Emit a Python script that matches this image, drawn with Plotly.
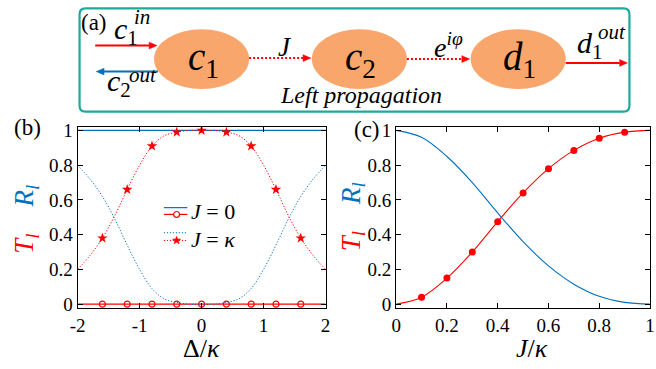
import math
import plotly.graph_objects as go

W, H = 656, 369
FONT = '"Liberation Serif", "Times New Roman", Times, serif'
RED = "#ff0000"
BLUE = "#0072BD"
TEAL = "#1fa99b"
ORANGE = "#f9a66c"

# ---------------- data: panel (b) ----------------
delta = [-2.0, -1.8, -1.6, -1.4, -1.2, -1.0, -0.8, -0.6, -0.4, -0.2, 0.0,
         0.2, 0.4, 0.6, 0.8, 1.0, 1.2, 1.4, 1.6, 1.8, 2.0]
R_J0 = [1.0] * 21
T_J0 = [0.0] * 21
T_Jk = [0.20, 0.28, 0.38, 0.51, 0.66, 0.80, 0.91, 0.97, 0.99, 1.00, 1.00,
        1.00, 0.99, 0.97, 0.91, 0.80, 0.66, 0.51, 0.38, 0.28, 0.20]
R_Jk = [0.80, 0.72, 0.62, 0.49, 0.34, 0.20, 0.09, 0.03, 0.01, 0.00, 0.00,
        0.00, 0.01, 0.03, 0.09, 0.20, 0.34, 0.49, 0.62, 0.72, 0.80]
mk_idx = [2, 4, 6, 8, 10, 12, 14, 16, 18]

# ---------------- data: panel (c) ----------------
J = [0.0, 0.1, 0.2, 0.3, 0.4, 0.5, 0.6, 0.7, 0.8, 0.9, 1.0]
T_c = [0.0, 0.04, 0.15, 0.30, 0.475, 0.64, 0.78, 0.885, 0.955, 0.99, 1.0]
R_c = [1.0, 0.96, 0.85, 0.70, 0.525, 0.36, 0.22, 0.115, 0.045, 0.01, 0.0]
mkc_idx = [1, 2, 3, 4, 5, 6, 7, 8, 9]

xticks_b = [-2, -1, 0, 1, 2]
xtick_text_b = ["-2", "-1", "0", "1", "2"]
xticks_c = [0, 0.2, 0.4, 0.6, 0.8, 1]
xtick_text_c = ["0", "0.2", "0.4", "0.6", "0.8", "1"]
yticks = [0, 0.2, 0.4, 0.6, 0.8, 1]
ytick_text = ["0", "0.2", "0.4", "0.6", "0.8", "1"]


def px(x):
    return x / W


def py(y):
    return 1 - y / H


fig = go.Figure()

DOT = "1.2px,1.8px"
# panel (b)
fig.add_trace(go.Scatter(x=delta, y=R_J0, mode="lines", line=dict(color=BLUE, width=1.2),
                         xaxis="x", yaxis="y"))
fig.add_trace(go.Scatter(x=delta, y=T_J0, mode="lines", line=dict(color=RED, width=1.2),
                         xaxis="x", yaxis="y"))
fig.add_trace(go.Scatter(x=[delta[i] for i in mk_idx], y=[T_J0[i] for i in mk_idx], mode="markers",
                         marker=dict(symbol="circle-open", color=RED, size=6, line=dict(width=1.2)),
                         xaxis="x", yaxis="y"))
fig.add_trace(go.Scatter(x=delta, y=R_Jk, mode="lines", line=dict(color=BLUE, width=1, dash=DOT, shape="spline"),
                         xaxis="x", yaxis="y"))
fig.add_trace(go.Scatter(x=delta, y=T_Jk, mode="lines", line=dict(color=RED, width=1, dash=DOT, shape="spline"),
                         xaxis="x", yaxis="y"))
fig.add_trace(go.Scatter(x=[delta[i] for i in mk_idx], y=[T_Jk[i] for i in mk_idx], mode="markers",
                         marker=dict(symbol="star", color=RED, size=8, line=dict(width=0)),
                         xaxis="x", yaxis="y"))

# panel (c)
fig.add_trace(go.Scatter(x=J, y=R_c, mode="lines", line=dict(color=BLUE, width=1.1, shape="spline"),
                         xaxis="x2", yaxis="y2"))
fig.add_trace(go.Scatter(x=J, y=T_c, mode="lines", line=dict(color=RED, width=1.1, shape="spline"),
                         xaxis="x2", yaxis="y2"))
fig.add_trace(go.Scatter(x=[J[i] for i in mkc_idx], y=[T_c[i] for i in mkc_idx], mode="markers",
                         marker=dict(symbol="circle", color=RED, size=7),
                         xaxis="x2", yaxis="y2"))

axis_common = dict(showline=True, linecolor="black", linewidth=1, mirror="ticks", ticks="inside",
                   ticklen=5, tickcolor="black", tickwidth=1, showgrid=False, zeroline=False,
                   tickfont=dict(family=FONT, size=19, color="black"))

ydom = [py(313), py(125)]
fig.update_layout(
    width=W, height=H, margin=dict(l=0, r=0, t=0, b=0),
    font=dict(family=FONT, color="black", size=16),
    paper_bgcolor="white", plot_bgcolor="rgba(0,0,0,0)", showlegend=False,
    xaxis=dict(domain=[px(71), px(324)], range=[-2, 2], tickvals=xticks_b, ticktext=xtick_text_b,
               anchor="y", **axis_common),
    yaxis=dict(domain=ydom, range=[-0.022, 1.022], tickvals=yticks, ticktext=ytick_text,
               anchor="x", **axis_common),
    xaxis2=dict(domain=[px(396), px(655)], range=[0, 1], tickvals=xticks_c, ticktext=xtick_text_c,
                anchor="y2", **axis_common),
    yaxis2=dict(domain=ydom, range=[-0.022, 1.022], tickvals=yticks, ticktext=ytick_text,
                anchor="x2", **axis_common),
)

shapes = []
ann = []


def text(x, y, s, size, color="black", angle=0, xanchor="center"):
    ann.append(dict(x=px(x), y=py(y), xref="paper", yref="paper", text=s, showarrow=False,
                    font=dict(family=FONT, size=size, color=color), textangle=angle,
                    xanchor=xanchor, yanchor="middle"))


def arrow(x0, x1, y, color, dash="solid", width=2):
    d = 1 if x1 > x0 else -1
    xb = x1 - d * 8
    shapes.append(dict(type="line", xref="paper", yref="paper", x0=px(x0), x1=px(xb), y0=py(y), y1=py(y),
                       line=dict(color=color, width=width, dash=dash)))
    shapes.append(dict(type="path", xref="paper", yref="paper",
                       path=f"M {px(x1)},{py(y)} L {px(xb)},{py(y - 3.5)} L {px(xb)},{py(y + 3.5)} Z",
                       fillcolor=color, line=dict(color=color, width=0.5)))


# ---------------- panel (a) diagram ----------------
x0, x1, y0, y1, r = 73, 634, 2.5, 109.5, 6
P = lambda x, y: f"{px(x)},{py(y)}"
box = (f"M {P(x0 + r, y0)} L {P(x1 - r, y0)} Q {P(x1, y0)} {P(x1, y0 + r)} L {P(x1, y1 - r)} "
       f"Q {P(x1, y1)} {P(x1 - r, y1)} L {P(x0 + r, y1)} Q {P(x0, y1)} {P(x0, y1 - r)} "
       f"L {P(x0, y0 + r)} Q {P(x0, y0)} {P(x0 + r, y0)} Z")
shapes.append(dict(type="path", xref="paper", yref="paper", path=box, line=dict(color=TEAL, width=2.2)))

for cx in (197.5, 358.5, 520.5):
    shapes.append(dict(type="circle", xref="paper", yref="paper", x0=px(cx - 48.5), x1=px(cx + 48.5),
                       y0=py(86), y1=py(24), fillcolor=ORANGE, line=dict(width=0)))

arrow(89, 152, 41, RED)
arrow(153, 90, 68, BLUE)
arrow(246, 309, 54, RED, dash="2px,2px", width=2)
arrow(407, 471, 55, RED, dash="2px,2px", width=2)
arrow(569, 632, 59, RED)

text(88, 17, "(a)", 23)
# c1^in (stacked sub/superscript)
text(106, 26, "<i>c</i><sub>1</sub>", 30, xanchor="left")
text(126, 11, "<i>in</i>", 21, xanchor="left")
# c2^out
text(99, 80, "<i>c</i><sub>2</sub>", 30, xanchor="left")
text(121, 72, "<i>out</i>", 21, xanchor="left")
# d1^out
text(578, 40, "<i>d</i><sub>1</sub>", 30, xanchor="left")
text(600, 27, "<i>out</i>", 21, xanchor="left")
text(199, 55, "<i>c</i><sub>1</sub>", 39)
text(360, 55, "<i>c</i><sub>2</sub>", 39)
text(522, 55, "<i>d</i><sub>1</sub>", 39)
text(283, 43, "<i>J</i>", 27)
text(449, 41, "<i>e</i><sup><i>iφ</i></sup>", 28)
text(360, 92, "<i>Left propagation</i>", 24)

# ---------------- panel labels & axis titles ----------------
text(20, 126, "(b)", 23)
text(366, 128, "(c)", 23)
text(197, 355, "Δ/<i>κ</i>", 26)
text(535, 355, "<i>J</i>/<i>κ</i>", 26)
ytitle = (f"<span style='color:{RED}'><i>T</i><sub><i>l</i></sub></span>    "
          f"<span style='color:{BLUE}'><i>R</i><sub><i>l</i></sub></span>")
text(19, 221, ytitle, 27, angle=-90)
text(352, 219, ytitle, 27, angle=-90)

# ---------------- legend in panel (b) ----------------
lx0, lx1, lxm = 159, 183, 172
shapes.append(dict(type="line", xref="paper", yref="paper", x0=px(lx0), x1=px(lx1), y0=py(209), y1=py(209),
                   line=dict(color=BLUE, width=1.2)))
shapes.append(dict(type="line", xref="paper", yref="paper", x0=px(lx0), x1=px(lx1), y0=py(216), y1=py(216),
                   line=dict(color=RED, width=1.2)))
shapes.append(dict(type="circle", xref="paper", yref="paper", x0=px(lxm - 3), x1=px(lxm + 3),
                   y0=py(219), y1=py(213), fillcolor="white", line=dict(color=RED, width=1.2)))
shapes.append(dict(type="line", xref="paper", yref="paper", x0=px(lx0), x1=px(lx1), y0=py(235), y1=py(235),
                   line=dict(color=BLUE, width=1, dash=DOT)))
shapes.append(dict(type="line", xref="paper", yref="paper", x0=px(lx0), x1=px(lx1), y0=py(243), y1=py(243),
                   line=dict(color=RED, width=1, dash=DOT)))
pts = []
for k in range(10):
    rad = 4.4 if k % 2 == 0 else 1.9
    a = -math.pi / 2 + k * math.pi / 5
    pts.append(P(lxm + rad * math.cos(a), 243 + rad * math.sin(a)))
shapes.append(dict(type="path", xref="paper", yref="paper", path="M " + " L ".join(pts) + " Z",
                   fillcolor=RED, line=dict(color=RED, width=0.5)))
text(185, 213, "<i>J</i> = 0", 22, xanchor="left")
text(185, 242, "<i>J</i> = <i>κ</i>", 22, xanchor="left")

fig.update_layout(shapes=shapes, annotations=ann)
fig.write_html("out.html")
